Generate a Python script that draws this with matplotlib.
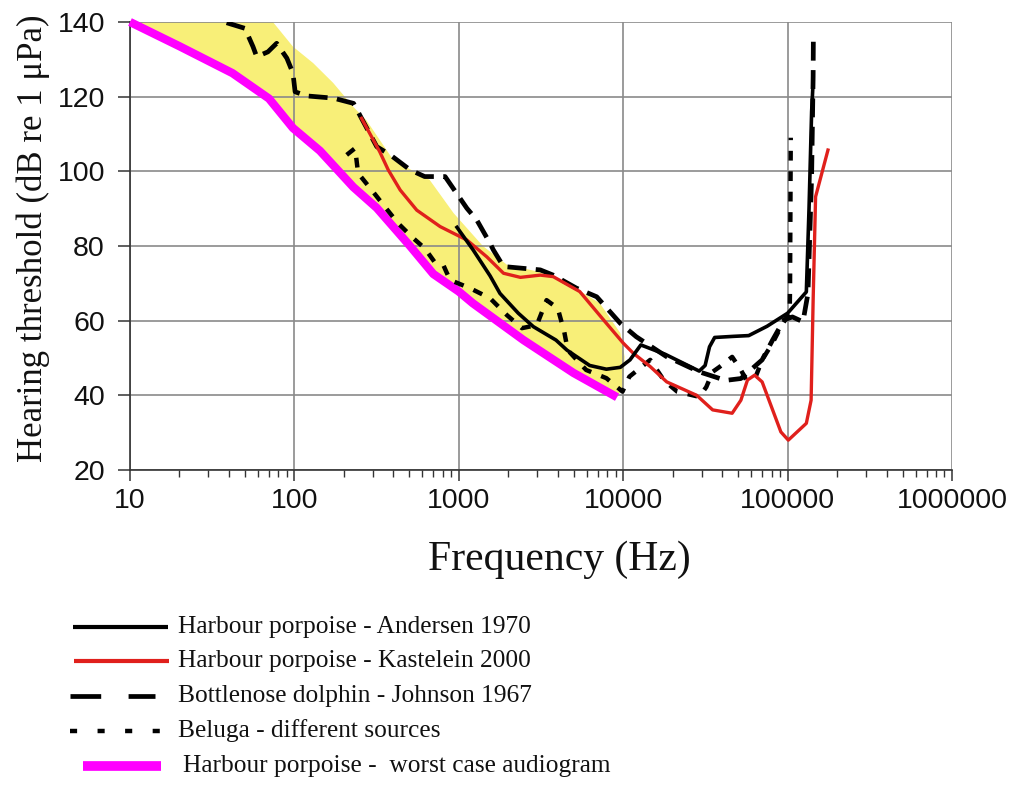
import matplotlib
matplotlib.use('Agg')
import matplotlib.pyplot as plt
from matplotlib.lines import Line2D
from matplotlib.ticker import LogLocator, NullFormatter

# ---------------- data ----------------
mag_f = [10, 20, 42, 70, 98, 143, 228, 317, 505, 700, 1000, 1214, 2475, 4985, 9170]
mag_db = [140, 133.5, 126.3, 119.5, 111.6, 105.5, 95.8, 90.2, 80, 72.5, 67.8, 64.7, 54.8, 46, 39.5]

fill_up_f = [10, 74, 98, 130, 172, 229, 274, 400, 665, 930, 1400, 1960, 3130, 4980, 7200, 9600, 10200, 10000]
fill_up_db = [140, 140, 133.4, 129, 123.7, 117.2, 113.7, 103, 97.7, 88.8, 80, 75, 73, 69, 64.7, 56.7, 50.3, 42]

and_f = [975, 1220, 1550, 1780, 2300, 2840, 3900, 4550, 6250, 7900, 9600, 11000, 12800,
         18000, 29000, 31500, 33500, 36000, 47000, 58000, 75000, 100000, 130000, 135000,
         140000, 143000]
and_db = [85, 79, 72, 67.3, 62, 58.4, 54.8, 52.1, 48, 47, 47.5, 49.5, 53.5,
          51, 46.5, 48, 53, 55.5, 55.8, 56, 58.5, 62, 67.7, 90,
          116, 124]

red_f = [256, 330, 372, 440, 555, 770, 1120, 1480, 1870, 2370, 3130, 3750, 5440, 7900,
         10000, 11500, 14600, 18400, 28000, 35000, 46000, 52000, 57000, 63000, 70000,
         91000, 101000, 130000, 139000, 143000, 148000, 176000]
red_db = [114.2, 105.3, 100.4, 95, 89.6, 85.2, 81.6, 77.1, 72.7, 71.6, 72.2, 71.8, 67.8, 59.3,
          54, 51.3, 47.7, 43.6, 40, 36.1, 35.2, 38.7, 44.1, 45.4, 43.6,
          30.2, 28, 32.5, 38.7, 65.5, 93.2, 105.7]

joh_f = [38.7, 50, 56, 59, 69, 78, 90, 98, 101, 119, 173, 229, 256, 317, 383, 505, 620,
         825, 970, 1120, 1285, 1550, 1620, 1870, 3130, 3750, 5200, 6900, 9600, 12000,
         18300, 29000, 42000, 52000, 70000, 81000, 95000, 107000, 124000, 133000, 140000,
         143000, 143500]
joh_db = [139.8, 138.3, 133.4, 130.7, 132, 134.3, 130.3, 126.3, 121.3, 120.2, 119.6, 118.2,
          114.2, 106.6, 104.4, 100.4, 98.6, 98.6, 94.1, 90.1, 87, 80.7, 79, 74.5, 73.6, 72.2,
          68.7, 66.4, 59.3, 55.7, 50.4, 46.3, 44, 44.5, 49.5, 54.8, 60.2, 61, 59.7, 67.3,
          98.6, 125.4, 137]

bel_f = [208, 234, 244, 295, 355, 427, 528, 620, 710, 805, 884, 1170, 1550, 1960, 2420,
         2980, 3420, 4000, 4380, 4600, 5950, 7900, 9900, 10900, 14600, 17700, 21300,
         29000, 32000, 35000, 38500, 46000, 52000, 56000, 64000, 70000, 81000, 89000,
         96000, 103000, 103500, 104500]
bel_db = [104.4, 106.2, 99.5, 95, 90.5, 86.1, 82.1, 79.4, 75.8, 74.9, 70.9, 68.7, 66, 61.5,
          58, 58.8, 65.5, 63.3, 57, 52.1, 46.8, 44.6, 41, 45, 49.5, 44, 41, 39.6, 42.2,
          46.3, 47.6, 50.3, 46.8, 44.1, 45, 49.5, 54, 57.5, 60, 62, 70, 109]

x_ticks = [10, 100, 1000, 10000, 100000, 1000000]
x_labels = ['10', '100', '1000', '10000', '100000', '1000000']
y_ticks = [20, 40, 60, 80, 100, 120, 140]

legend_labels = ['Harbour porpoise - Andersen 1970',
                 'Harbour porpoise - Kastelein 2000',
                 'Bottlenose dolphin - Johnson 1967',
                 'Beluga - different sources',
                 'Harbour porpoise -  worst case audiogram']

# ---------------- figure ----------------
W, H = 1016, 802
fig = plt.figure(figsize=(W / 100, H / 100), dpi=100)
ax = fig.add_axes([130 / W, 1 - 470 / H, (952 - 130) / W, (470 - 22) / H])

YELLOW = '#F8EF78'
MAGENTA = '#FF00FF'
RED = '#E0201C'
BLACK = '#000000'

ax.fill(fill_up_f + mag_f[::-1], fill_up_db + mag_db[::-1], color=YELLOW, lw=0, zorder=0.3)

ax.plot(mag_f, mag_db, color=MAGENTA, lw=6, solid_capstyle='butt', solid_joinstyle='round',
        zorder=3, clip_on=False)
ax.plot(bel_f, bel_db, color=BLACK, lw=3.2, dashes=(2.2, 2.4), dash_capstyle='butt', zorder=4)
ax.plot(joh_f, joh_db, color=BLACK, lw=3.4, dashes=(4.0, 2.0), dash_capstyle='butt', zorder=4)
ax.plot(red_f, red_db, color=RED, lw=2.4, solid_joinstyle='round', zorder=5)
ax.plot(and_f, and_db, color=BLACK, lw=2.6, solid_joinstyle='round', zorder=6)

ax.set_xscale('log')
ax.set_xlim(10, 1e6)
ax.set_ylim(20, 140)
ax.set_xticks(x_ticks)
ax.set_xticklabels(x_labels)
ax.xaxis.set_minor_locator(LogLocator(base=10, subs=range(2, 10), numticks=20))
ax.xaxis.set_minor_formatter(NullFormatter())
ax.set_yticks(y_ticks)
ax.set_yticklabels([str(v) for v in y_ticks])

ax.set_axisbelow(True)
ax.grid(True, which='major', color='#8a8a8a', lw=1.2)
ax.grid(False, which='minor')
for s in ['top', 'right']:
    ax.spines[s].set_visible(False)
for s in ['left', 'bottom']:
    ax.spines[s].set_color('#333333')
    ax.spines[s].set_linewidth(1.2)

ax.tick_params(axis='x', which='major', direction='out', length=8, width=1.1, color='#333333', pad=5)
ax.tick_params(axis='x', which='minor', direction='out', length=5, width=1.0, color='#333333')
ax.tick_params(axis='y', which='major', direction='out', length=9, width=1.1, color='#333333', pad=9)
for lab in ax.get_xticklabels() + ax.get_yticklabels():
    lab.set_fontfamily('Liberation Sans')
    lab.set_fontsize(20.5)
    lab.set_color('#111111')

fig.text(559 / W, 1 - 560 / H, 'Frequency (Hz)', ha='center', va='center',
         family='Liberation Serif', fontsize=30, color='#111111')
fig.text(33 / W, 1 - 238 / H, 'Hearing threshold (dB re 1 \u03bcPa)', ha='center', va='center',
         rotation=90, family='Liberation Serif', fontsize=25, color='#111111')

# ---------------- legend (drawn manually) ----------------
rows_y = [627, 661, 696, 731, 766]
styles = [dict(color=BLACK, lw=3.0, x0=73, x1=168),
          dict(color=RED, lw=3.0, x0=74, x1=169),
          dict(color=BLACK, lw=3.4, x0=70, x1=155, dashes=(6.5, 5.8)),
          dict(color=BLACK, lw=3.2, x0=70, x1=161, dashes=(1.6, 4.6)),
          dict(color=MAGENTA, lw=7, x0=83, x1=161)]
text_x = [178, 178, 178, 178, 183]
for y, st, lab, tx in zip(rows_y, styles, legend_labels, text_x):
    kw = dict(color=st['color'], lw=st['lw'], transform=fig.transFigure, solid_capstyle='butt',
              dash_capstyle='butt')
    if 'dashes' in st:
        kw['dashes'] = st['dashes']
    fig.add_artist(Line2D([st['x0'] / W, st['x1'] / W], [1 - y / H, 1 - y / H], **kw))
    fig.text(tx / W, 1 - y / H, lab, ha='left', va='center', family='Liberation Serif',
             fontsize=18.3, color='#111111')

fig.savefig('out.png', dpi=100)
